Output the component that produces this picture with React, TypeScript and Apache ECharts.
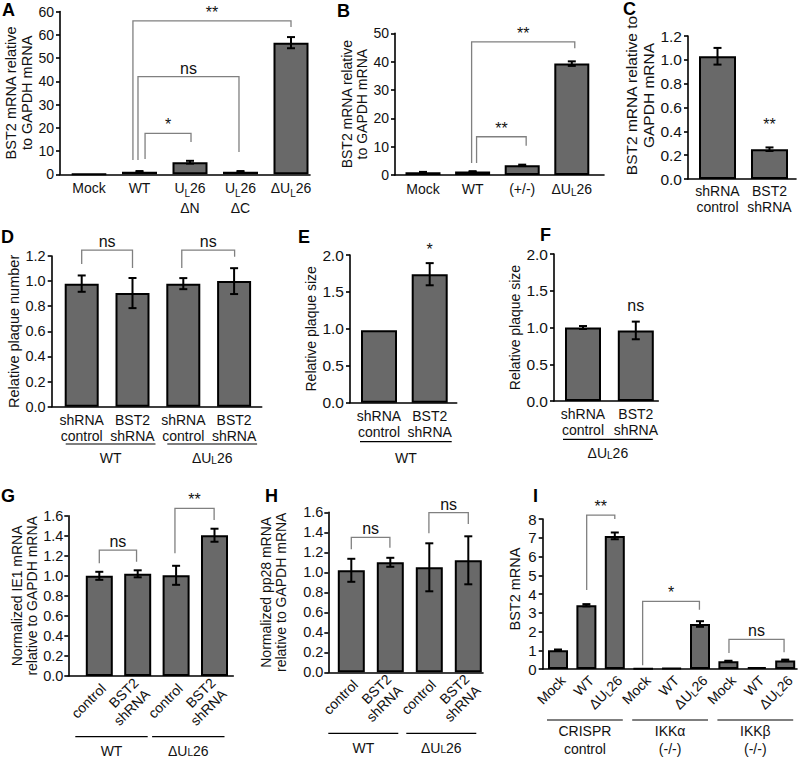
import React, { useEffect, useRef } from "react";
import * as echarts from "echarts";

const FONT = '"Liberation Sans", Arial, Helvetica, sans-serif';
const INK = "#111111";
const BAR_FILL = "#696969";
const BRACKET = "#808080";
const CAT_FS = 14;
const SIG_FS = 16;

type Bracket = { from: number; to: number; y: number; legL: number; legR: number; label: string };
type Note = { at: number; y: number; label: string };
type Group = { from: number; to: number; label: string };

// ---------- Panel A ----------
const aCategories = ["Mock", "WT", "UL26\nΔN", "UL26\nΔC", "ΔUL26"];
const aValues = [0.15, 1.1, 5.2, 1.1, 56.6];
const aErrors = [0, 0.3, 0.6, 0.3, 2.4];
const aTicks = ["0", "10", "20", "30", "40", "50", "60", "60"];
const aBrackets: Bracket[] = [
  { from: 0.87, to: 4.0, y: 66.0, legL: 6.1, legR: 63.3, label: "**" },
  { from: 0.97, to: 2.97, y: 42.0, legL: 6.1, legR: 9.6, label: "ns" },
  { from: 1.11, to: 2.02, y: 17.6, legL: 6.6, legR: 13.9, label: "*" },
];

// ---------- Panel B ----------
const bCategories = ["Mock", "WT", "(+/-)", "ΔUL26"];
const bValues = [1.0, 1.2, 3.4, 39.3];
const bErrors = [0.1, 0.15, 0.25, 0.8];
const bTicks = ["0", "10", "20", "30", "40", "50"];
const bBrackets: Bracket[] = [
  { from: 0.98, to: 3.06, y: 47.0, legL: 4.2, legR: 44.7, label: "**" },
  { from: 1.08, to: 2.08, y: 13.5, legL: 4.2, legR: 10.3, label: "**" },
];

// ---------- Panel C ----------
const cCategories = ["shRNA\ncontrol", "BST2\nshRNA"];
const cValues = [1.03, 0.25];
const cErrors = [0.07, 0.015];
const cTicks = ["0.0", "0.2", "0.4", "0.6", "0.8", "1.0", "1.2"];
const cNotes: Note[] = [{ at: 1, y: 0.39, label: "**" }];

// ---------- Panel D ----------
const dCategories = ["shRNA\ncontrol", "BST2\nshRNA", "shRNA\ncontrol", "BST2\nshRNA"];
const dValues = [0.98, 0.905, 0.98, 1.0];
const dErrors = [0.065, 0.12, 0.044, 0.103];
const dTicks = ["0.0", "0.2", "0.4", "0.6", "0.8", "1.0", "1.2"];
const dGroups: Group[] = [
  { from: 0, to: 1, label: "WT" },
  { from: 2, to: 3, label: "ΔUL26" },
];
const dBrackets: Bracket[] = [
  { from: 0, to: 1, y: 1.247, legL: 1.136, legR: 1.104, label: "ns" },
  { from: 1.97, to: 3.01, y: 1.247, legL: 1.104, legR: 1.194, label: "ns" },
];

// ---------- Panel E ----------
const eCategories = ["shRNA\ncontrol", "BST2\nshRNA"];
const eValues = [0.98, 1.74];
const eErrors = [0, 0.15];
const eTicks = ["0.0", "0.5", "1.0", "1.5", "2.0"];
const eGroups: Group[] = [{ from: 0, to: 1, label: "WT" }];
const eNotes: Note[] = [{ at: 1, y: 1.96, label: "*" }];

// ---------- Panel F ----------
const fCategories = ["shRNA\ncontrol", "BST2\nshRNA"];
const fValues = [1.0, 0.96];
const fErrors = [0.02, 0.12];
const fTicks = ["0.0", "0.5", "1.0", "1.5", "2.0"];
const fGroups: Group[] = [{ from: 0, to: 1, label: "ΔUL26" }];
const fNotes: Note[] = [{ at: 1, y: 1.19, label: "ns" }];

// ---------- Panel G ----------
const gCategories = ["control", "BST2\nshRNA", "control", "BST2\nshRNA"];
const gValues = [1.0, 1.02, 1.005, 1.405];
const gErrors = [0.04, 0.035, 0.095, 0.065];
const gTicks = ["0.0", "0.2", "0.4", "0.6", "0.8", "1.0", "1.2", "1.4", "1.6"];
const gGroups: Group[] = [
  { from: 0, to: 1, label: "WT" },
  { from: 2, to: 3, label: "ΔUL26" },
];
const gBrackets: Bracket[] = [
  { from: 0, to: 0.97, y: 1.257, legL: 1.125, legR: 1.14, label: "ns" },
  { from: 1.97, to: 2.99, y: 1.674, legL: 1.225, legR: 1.557, label: "**" },
];

// ---------- Panel H ----------
const hCategories = ["control", "BST2\nshRNA", "control", "BST2\nshRNA"];
const hValues = [1.02, 1.1, 1.05, 1.12];
const hErrors = [0.115, 0.045, 0.24, 0.24];
const hTicks = ["0.0", "0.2", "0.4", "0.6", "0.8", "1.0", "1.2", "1.4", "1.6"];
const hGroups: Group[] = [
  { from: 0, to: 1, label: "WT" },
  { from: 2, to: 3, label: "ΔUL26" },
];
const hBrackets: Bracket[] = [
  { from: 0, to: 0.99, y: 1.35, legL: 1.23, legR: 1.246, label: "ns" },
  { from: 1.99, to: 3.0, y: 1.596, legL: 1.39, legR: 1.483, label: "ns" },
];

// ---------- Panel I ----------
const iCategories = ["Mock", "WT", "ΔUL26", "Mock", "WT", "ΔUL26", "Mock", "WT", "ΔUL26"];
const iValues = [1.0, 3.4, 7.1, 0.02, 0.05, 2.4, 0.42, 0.1, 0.46];
const iErrors = [0.04, 0.06, 0.18, 0, 0, 0.15, 0.02, 0, 0.04];
const iTicks = ["0", "1", "2", "3", "4", "5", "6", "7", "8"];
const iGroups: Group[] = [
  { from: 0, to: 2, label: "CRISPR\ncontrol" },
  { from: 3, to: 5, label: "IKKα\n(-/-)" },
  { from: 6, to: 8, label: "IKKβ\n(-/-)" },
];
const iBrackets: Bracket[] = [
  { from: 1.01, to: 2.0, y: 8.21, legL: 4.21, legR: 8.0, label: "**" },
  { from: 2.98, to: 4.98, y: 3.61, legL: 0.2, legR: 3.16, label: "*" },
  { from: 6.02, to: 7.96, y: 1.58, legL: 0.85, legR: 0.9, label: "ns" },
];

// ---------- layout (pixels) ----------
interface PanelCfg {
  letter: string;
  letterX: number;
  letterY: number;
  axisX: number;
  axisEnd: number;
  firstCenter: number;
  spacing: number;
  yTop: number;
  yZero: number;
  yMax: number;
  interval: number;
  cats: string[];
  values: number[];
  errors: number[];
  ticks: string[];
  brackets: Bracket[];
  notes: Note[];
  groups: Group[];
  yTitle: string;
  nameGap: number;
  nameShift: number;
  tickFs: number;
  titleFs: number;
  barWidth: number;
  rotate: boolean;
  catLH: number;
  catOffset: number;
  rotDx: number;
  rotDy: number;
  ulOffset: number;
  ulPadL: number;
  ulPadR: number;
  groupY: number;
  groupLH: number;
  labelMargin: number;
}

const panels: PanelCfg[] = [
  {
    letter: "A", letterX: 2, letterY: 1,
    axisX: 60, axisEnd: 310, firstCenter: 89, spacing: 50.5,
    yTop: 11.5, yZero: 174.3, yMax: 70, interval: 10,
    cats: aCategories, values: aValues, errors: aErrors, ticks: aTicks,
    brackets: aBrackets, notes: [], groups: [],
    yTitle: "BST2 mRNA relative\nto GAPDH mRNA", nameGap: 9, nameShift: 0, tickFs: 14, titleFs: 14.5,
    barWidth: 35, rotate: false, catLH: 20, catOffset: 4, rotDx: 0, rotDy: 0,
    ulOffset: 0, ulPadL: 0, ulPadR: 0, groupY: 0, groupLH: 16, labelMargin: 6,
  },
  {
    letter: "B", letterX: 337, letterY: 2,
    axisX: 395, axisEnd: 604, firstCenter: 423, spacing: 49.6,
    yTop: 33.3, yZero: 175, yMax: 50, interval: 10,
    cats: bCategories, values: bValues, errors: bErrors, ticks: bTicks,
    brackets: bBrackets, notes: [], groups: [],
    yTitle: "BST2 mRNA relative\nto GAPDH mRNA", nameGap: 18, nameShift: 0, tickFs: 14, titleFs: 14,
    barWidth: 35, rotate: false, catLH: 17, catOffset: 5, rotDx: 0, rotDy: 0,
    ulOffset: 0, ulPadL: 0, ulPadR: 0, groupY: 0, groupLH: 16, labelMargin: 6,
  },
  {
    letter: "C", letterX: 623, letterY: 0,
    axisX: 688, axisEnd: 796, firstCenter: 717.5, spacing: 52,
    yTop: 36, yZero: 179, yMax: 1.2, interval: 0.2,
    cats: cCategories, values: cValues, errors: cErrors, ticks: cTicks,
    brackets: [], notes: cNotes, groups: [],
    yTitle: "BST2 mRNA relative to\nGAPDH mRNA", nameGap: 23, nameShift: 12, tickFs: 15.5, titleFs: 15.5,
    barWidth: 37, rotate: false, catLH: 16, catOffset: 4, rotDx: 0, rotDy: 0,
    ulOffset: 0, ulPadL: 0, ulPadR: 0, groupY: 0, groupLH: 16, labelMargin: 6,
  },
  {
    letter: "D", letterX: 1, letterY: 228,
    axisX: 51.7, axisEnd: 261.7, firstCenter: 81.7, spacing: 50.8,
    yTop: 256, yZero: 406.7, yMax: 1.2, interval: 0.2,
    cats: dCategories, values: dValues, errors: dErrors, ticks: dTicks,
    brackets: dBrackets, notes: [], groups: dGroups,
    yTitle: "Relative plaque number", nameGap: 29, nameShift: 0, tickFs: 14.5, titleFs: 14.5,
    barWidth: 34, rotate: false, catLH: 16, catOffset: 5, rotDx: 0, rotDy: 0,
    ulOffset: 37.3, ulPadL: 16, ulPadR: 23, groupY: 51.3, groupLH: 14, labelMargin: 6,
  },
  {
    letter: "E", letterX: 298, letterY: 228,
    axisX: 350, axisEnd: 456.7, firstCenter: 379, spacing: 50.7,
    yTop: 255, yZero: 402.7, yMax: 2, interval: 0.5,
    cats: eCategories, values: eValues, errors: eErrors, ticks: eTicks,
    brackets: [], notes: eNotes, groups: eGroups,
    yTitle: "Relative plaque size", nameGap: 29.5, nameShift: 0, tickFs: 15.5, titleFs: 14,
    barWidth: 36, rotate: false, catLH: 16, catOffset: 5, rotDx: 0, rotDy: 0,
    ulOffset: 39, ulPadL: 19, ulPadR: 22, groupY: 55.3, groupLH: 14, labelMargin: 6,
  },
  {
    letter: "F", letterX: 540, letterY: 226,
    axisX: 554, axisEnd: 658.3, firstCenter: 583, spacing: 52.8,
    yTop: 254, yZero: 401, yMax: 2, interval: 0.5,
    cats: fCategories, values: fValues, errors: fErrors, ticks: fTicks,
    brackets: [], notes: fNotes, groups: fGroups,
    yTitle: "Relative plaque size", nameGap: 30, nameShift: 0, tickFs: 15.5, titleFs: 14,
    barWidth: 36, rotate: false, catLH: 16, catOffset: 5, rotDx: 0, rotDy: 0,
    ulOffset: 38.3, ulPadL: 20, ulPadR: 17, groupY: 52, groupLH: 14, labelMargin: 6,
  },
  {
    letter: "G", letterX: 1, letterY: 487,
    axisX: 68.3, axisEnd: 233.3, firstCenter: 99.3, spacing: 38.4,
    yTop: 515.7, yZero: 676, yMax: 1.6, interval: 0.2,
    cats: gCategories, values: gValues, errors: gErrors, ticks: gTicks,
    brackets: gBrackets, notes: [], groups: gGroups,
    yTitle: "Normalized IE1 mRNA\nrelative to GAPDH mRNA", nameGap: 26, nameShift: 0, tickFs: 14.5, titleFs: 14,
    barWidth: 27, rotate: true, catLH: 16, catOffset: 0, rotDx: 4, rotDy: 10,
    ulOffset: 60.7, ulPadL: 24, ulPadR: 10, groupY: 75.2, groupLH: 12, labelMargin: 5,
  },
  {
    letter: "H", letterX: 265, letterY: 487,
    axisX: 328.3, axisEnd: 483, firstCenter: 351.3, spacing: 39,
    yTop: 512.3, yZero: 672.3, yMax: 1.6, interval: 0.2,
    cats: hCategories, values: hValues, errors: hErrors, ticks: hTicks,
    brackets: hBrackets, notes: [], groups: hGroups,
    yTitle: "Normalized pp28 mRNA\nrelative to GAPDH mRNA", nameGap: 40, nameShift: 0, tickFs: 14.5, titleFs: 14,
    barWidth: 27, rotate: true, catLH: 16, catOffset: 0, rotDx: 4, rotDy: 10,
    ulOffset: 61, ulPadL: 23, ulPadR: 8, groupY: 76, groupLH: 12, labelMargin: 5,
  },
  {
    letter: "I", letterX: 533, letterY: 487,
    axisX: 542.7, axisEnd: 797, firstCenter: 558, spacing: 28.4,
    yTop: 519, yZero: 669, yMax: 8, interval: 1,
    cats: iCategories, values: iValues, errors: iErrors, ticks: iTicks,
    brackets: iBrackets, notes: [], groups: iGroups,
    yTitle: "BST2 mRNA", nameGap: 20, nameShift: 5, tickFs: 15, titleFs: 14.5,
    barWidth: 20, rotate: true, catLH: 16, catOffset: 0, rotDx: 5, rotDy: 9,
    ulOffset: 51, ulPadL: 11, ulPadR: 8, groupY: 71, groupLH: 18, labelMargin: 6,
  },
];

function richText(s: string): string {
  return s
    .split("\n")
    .map((line) => {
      const parts = line.split("UL26");
      return parts.map((p) => (p ? `{n|${p}}` : "")).join("{n|U}{s|L}{n|26}");
    })
    .join("\n");
}

function richFor(lh: number) {
  return {
    n: { fontSize: CAT_FS, fontFamily: FONT, fill: INK, color: INK, lineHeight: lh },
    s: { fontSize: 10, fontFamily: FONT, fill: INK, color: INK, lineHeight: 10, verticalAlign: "bottom" },
  };
}

function buildOption(): any {
  const grid: any[] = [];
  const xAxis: any[] = [];
  const yAxis: any[] = [];
  const series: any[] = [];
  const graphic: any[] = [];
  const axisLineStyle = { color: "#000", width: 1.6 };

  panels.forEach((p, i) => {
    const xMin = -(p.firstCenter - p.axisX) / p.spacing;
    const xMax = (p.axisEnd - p.firstCenter) / p.spacing;
    grid.push({ left: p.axisX, top: p.yTop, width: p.axisEnd - p.axisX, height: p.yZero - p.yTop });
    xAxis.push({
      gridIndex: i, type: "value", min: xMin, max: xMax,
      axisLine: { show: true, onZero: false, lineStyle: axisLineStyle },
      axisTick: { show: false }, axisLabel: { show: false }, splitLine: { show: false },
    });
    const shift = p.nameShift;
    yAxis.push({
      gridIndex: i, type: "value", min: 0, max: p.yMax, interval: p.interval,
      axisLine: { show: true, onZero: false, lineStyle: axisLineStyle },
      axisTick: { show: true, length: 4, lineStyle: axisLineStyle },
      axisLabel: {
        margin: p.labelMargin, fontSize: p.tickFs, fontFamily: FONT, color: INK,
        formatter: (v: number) => p.ticks[Math.round(v / p.interval)] ?? "",
      },
      splitLine: { show: false },
      name: p.yTitle, nameLocation: "middle", nameGap: p.nameGap, nameRotate: 90,
      nameTextStyle: {
        fontSize: p.titleFs, fontFamily: FONT, color: INK, lineHeight: p.titleFs + 1,
        padding: shift >= 0 ? [0, 0, 0, 2 * shift] : [0, -2 * shift, 0, 0],
      },
    });

    // bars
    series.push({
      type: "bar", xAxisIndex: i, yAxisIndex: i, silent: true, z: 2,
      barWidth: p.barWidth,
      data: p.values.map((v, k) => [k, v]),
      itemStyle: { color: BAR_FILL, borderColor: "#000", borderWidth: 2 },
    });

    // error bars
    const errData = p.values
      .map((v, k) => [k, v, p.errors[k]])
      .filter((d) => d[2] > 0);
    series.push({
      type: "custom", xAxisIndex: i, yAxisIndex: i, silent: true, z: 3,
      data: errData,
      renderItem: (_params: any, api: any) => {
        const x = api.value(0);
        const v = api.value(1);
        const e = api.value(2);
        const t = api.coord([x, v + e]);
        const b = api.coord([x, v - e]);
        const hw = 4;
        const st = { stroke: "#000", lineWidth: 2 };
        return {
          type: "group",
          children: [
            { type: "line", shape: { x1: t[0], y1: t[1], x2: b[0], y2: b[1] }, style: st },
            { type: "line", shape: { x1: t[0] - hw, y1: t[1], x2: t[0] + hw, y2: t[1] }, style: st },
            { type: "line", shape: { x1: b[0] - hw, y1: b[1], x2: b[0] + hw, y2: b[1] }, style: st },
          ],
        };
      },
    });

    // significance brackets
    if (p.brackets.length) {
      series.push({
        type: "custom", xAxisIndex: i, yAxisIndex: i, silent: true, z: 4,
        data: p.brackets.map((b) => [b.from, b.y]),
        renderItem: (params: any, api: any) => {
          const b = p.brackets[params.dataIndex];
          const l0 = api.coord([b.from, b.legL]);
          const l1 = api.coord([b.from, b.y]);
          const r1 = api.coord([b.to, b.y]);
          const r0 = api.coord([b.to, b.legR]);
          return {
            type: "group",
            children: [
              {
                type: "polyline",
                shape: { points: [l0, l1, r1, r0] },
                style: { stroke: BRACKET, lineWidth: 1.3, fill: "none" },
              },
              {
                type: "text", x: (l1[0] + r1[0]) / 2, y: l1[1] - 0.5,
                style: {
                  text: b.label, align: "center", verticalAlign: "bottom",
                  fontSize: SIG_FS, fontFamily: FONT, fill: INK,
                },
              },
            ],
          };
        },
      });
    }

    // free annotations
    if (p.notes.length) {
      series.push({
        type: "custom", xAxisIndex: i, yAxisIndex: i, silent: true, z: 4,
        data: p.notes.map((n) => [n.at, n.y]),
        renderItem: (params: any, api: any) => {
          const n = p.notes[params.dataIndex];
          const pt = api.coord([n.at, n.y]);
          return {
            type: "text", x: pt[0], y: pt[1],
            style: {
              text: n.label, align: "center", verticalAlign: "bottom",
              fontSize: SIG_FS, fontFamily: FONT, fill: INK,
            },
          };
        },
      });
    }

    // category labels
    series.push({
      type: "custom", xAxisIndex: i, yAxisIndex: i, silent: true, z: 4,
      data: p.cats.map((_c, k) => [k, 0]),
      renderItem: (params: any, api: any) => {
        const k = params.dataIndex;
        const pt = api.coord([k, 0]);
        const text = richText(p.cats[k]);
        if (p.rotate) {
          return {
            type: "text", x: pt[0] + p.rotDx, y: pt[1] + p.rotDy, rotation: Math.PI / 4,
            style: {
              text, align: "right", verticalAlign: "middle", rich: richFor(p.catLH),
              fontSize: CAT_FS, fontFamily: FONT, fill: INK,
            },
          };
        }
        return {
          type: "text", x: pt[0], y: pt[1] + p.catOffset,
          style: {
            text, align: "center", verticalAlign: "top", rich: richFor(p.catLH),
            fontSize: CAT_FS, fontFamily: FONT, fill: INK,
          },
        };
      },
    });

    // group underlines + labels
    if (p.groups.length) {
      series.push({
        type: "custom", xAxisIndex: i, yAxisIndex: i, silent: true, z: 4,
        data: p.groups.map((g) => [g.from, 0]),
        renderItem: (params: any, api: any) => {
          const g = p.groups[params.dataIndex];
          const a = api.coord([g.from, 0]);
          const b = api.coord([g.to, 0]);
          const x1 = a[0] - p.ulPadL;
          const x2 = b[0] + p.ulPadR;
          const y = a[1] + p.ulOffset;
          return {
            type: "group",
            children: [
              { type: "line", shape: { x1, y1: y, x2, y2: y }, style: { stroke: "#000", lineWidth: 1.2 } },
              {
                type: "text", x: (x1 + x2) / 2, y: a[1] + p.groupY,
                style: {
                  text: richText(g.label), align: "center", verticalAlign: "middle",
                  rich: richFor(p.groupLH), fontSize: CAT_FS, fontFamily: FONT, fill: INK,
                },
              },
            ],
          };
        },
      });
    }

    graphic.push({
      type: "text", left: p.letterX, top: p.letterY, silent: true,
      style: { text: p.letter, fontSize: 18, fontWeight: "bold", fontFamily: FONT, fill: "#000" },
    });
  });

  return {
    animation: false,
    backgroundColor: "#ffffff",
    textStyle: { fontFamily: FONT },
    grid, xAxis, yAxis, series, graphic,
  };
}

export default function App() {
  const ref = useRef<HTMLDivElement>(null);
  useEffect(() => {
    if (!ref.current) return;
    const chart = echarts.init(ref.current, undefined, { renderer: "svg" });
    chart.setOption(buildOption());
    return () => chart.dispose();
  }, []);
  return (
    <div
      ref={ref}
      style={{ position: "absolute", left: 0, top: 0, width: 800, height: 758, background: "#fff" }}
    />
  );
}
